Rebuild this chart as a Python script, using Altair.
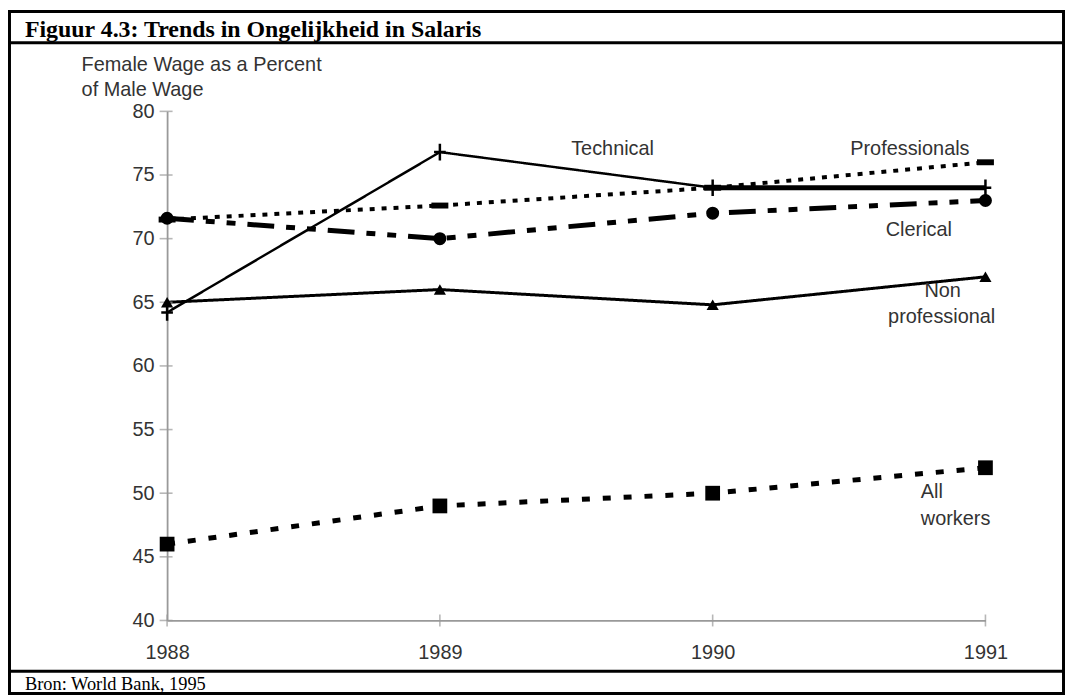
import altair as alt
import pandas as pd

years = [1988, 1989, 1990, 1991]
technical = [64.2, 76.8, 74, 74]
professionals = [71.5, 72.6, 74, 76]
clerical = [71.6, 70, 72, 73]
non_professional = [65, 66, 64.8, 67]
all_workers = [46, 49, 50, 52]

series_names = ["Technical", "Professionals", "Clerical", "Non professional", "All workers"]
series_values = [technical, professionals, clerical, non_professional, all_workers]
y_ticks = [40, 45, 50, 55, 60, 65, 70, 75, 80]

title_text = "Figuur 4.3: Trends in Ongelijkheid in Salaris"
source_text = "Bron: World Bank, 1995"
y_title_lines = ["Female Wage as a Percent", "of Male Wage"]

rows = []
for name, vals in zip(series_names, series_values):
    for yr, v in zip(years, vals):
        rows.append({"series": name, "year": yr, "value": v})
df = pd.DataFrame(rows)

W, H = 823, 512
PL, PT, PR, PB = 160, 102, 80, 75

xs = alt.Scale(domain=[1988, 1991], nice=False, zero=False)
ys = alt.Scale(domain=[40, 80], nice=False, zero=False)

axis_common = dict(title=None, grid=False, domainColor="#999", domainWidth=1.8, ticks=False, tickSize=0,
                   labelColor="#333", labelFont="Liberation Sans", labelFontSize=20, labelFlush=False)
x_enc = alt.X("year:Q", scale=xs, axis=alt.Axis(values=years, format="d", labelPadding=22, **axis_common))
y_enc = alt.Y("value:Q", scale=ys, axis=alt.Axis(values=y_ticks, labelPadding=13, **axis_common))

styles = {
    "Technical": dict(dash=[1, 0], width=2.5),
    "Professionals": dict(dash=[5, 7], width=4),
    "Clerical": dict(dash=[27, 12, 9, 12, 9, 12], width=5),
    "Non professional": dict(dash=[1, 0], width=3),
    "All workers": dict(dash=[8, 13], width=5),
}

base = alt.Chart(df)
layers = []

for name in series_names:
    st = styles[name]
    layers.append(
        base.transform_filter(alt.datum.series == name)
        .mark_line(color="black", strokeDash=st["dash"], strokeWidth=st["width"])
        .encode(x=x_enc, y=y_enc)
    )
# heavier final Technical segment as in the original
layers.append(
    base.transform_filter((alt.datum.series == "Technical") & (alt.datum.year >= 1990))
    .mark_line(color="black", strokeWidth=5)
    .encode(x=x_enc, y=y_enc)
)

# crossing tick marks on the axes
layers.append(alt.Chart(pd.DataFrame({"value": y_ticks})).mark_tick(color="#999", thickness=1.6, size=13).encode(
    y=y_enc, x=alt.value(-1)))
layers.append(alt.Chart(pd.DataFrame({"year": years})).mark_tick(color="#999", thickness=1.6, size=12).encode(
    x=x_enc, y=alt.value(H)))

plus_path = "M-0.7,0H0.7M0,-1V1"
rect_path = "M-1,-0.35H1V0.35H-1Z"
marker_specs = {
    "Technical": dict(shape=plus_path, size=280, filled=False, strokeWidth=2.5),
    "Professionals": dict(shape=rect_path, size=290, filled=True, strokeWidth=0),
    "Clerical": dict(shape="circle", size=170, filled=True, strokeWidth=0),
    "Non professional": dict(shape="triangle-up", size=150, filled=True, strokeWidth=0),
    "All workers": dict(shape="square", size=220, filled=True, strokeWidth=0),
}
for name in series_names:
    m = marker_specs[name]
    layers.append(
        base.transform_filter(alt.datum.series == name)
        .mark_point(color="black", opacity=1, shape=m["shape"], size=m["size"], filled=m["filled"],
                    strokeWidth=m["strokeWidth"])
        .encode(x=x_enc, y=y_enc)
    )

one = alt.Chart(pd.DataFrame({"k": [0]}))

# frame and separators
layers.append(one.mark_rect(fill=None, stroke="black", strokeWidth=3).encode(
    x=alt.value(-PL + 1.5), x2=alt.value(W + PR - 1.5), y=alt.value(-PT + 1.5), y2=alt.value(H + PB - 1.5)))
layers.append(one.mark_rule(color="black", strokeWidth=3).encode(
    x=alt.value(-PL), x2=alt.value(W + PR), y=alt.value(-69)))
layers.append(one.mark_rule(color="black", strokeWidth=3).encode(
    x=alt.value(-PL), x2=alt.value(W + PR), y=alt.value(563)))

# title and source
layers.append(one.mark_text(text=title_text, font="Liberation Serif", fontWeight="bold", fontSize=24,
                            align="left", baseline="alphabetic", color="black").encode(
    x=alt.value(-143), y=alt.value(-75)))
layers.append(one.mark_text(text=source_text, font="Liberation Serif", fontSize=18.5,
                            align="left", baseline="alphabetic", color="black").encode(
    x=alt.value(-143), y=alt.value(582)))

# y axis title
for i, line in enumerate(y_title_lines):
    layers.append(one.mark_text(text=line, font="Liberation Sans", fontSize=20, align="left",
                                baseline="alphabetic", color="#333").encode(
        x=alt.value(-86), y=alt.value(-40.5 + 25 * i)))

# series labels
labels = [
    ("Technical", 448, 38, "center"),
    ("Professionals", 747, 38, "center"),
    ("Clerical", 756, 119, "center"),
    ("Non", 780, 181, "center"),
    ("professional", 779, 207, "center"),
    ("All", 758, 383, "left"),
    ("workers", 758, 410, "left"),
]
for txt, lx, ly, al in labels:
    layers.append(one.mark_text(text=txt, font="Liberation Sans", fontSize=20, align=al,
                                baseline="middle", color="#333").encode(
        x=alt.value(lx), y=alt.value(ly)))

chart = alt.layer(*layers).properties(
    width=W, height=H,
    padding={"left": PL, "top": PT, "right": PR, "bottom": PB},
    autosize=alt.AutoSizeParams(type="none"),
    background="white",
).configure_view(stroke=None)

chart.save("out.html", embed_options={"renderer": "svg", "actions": False})
